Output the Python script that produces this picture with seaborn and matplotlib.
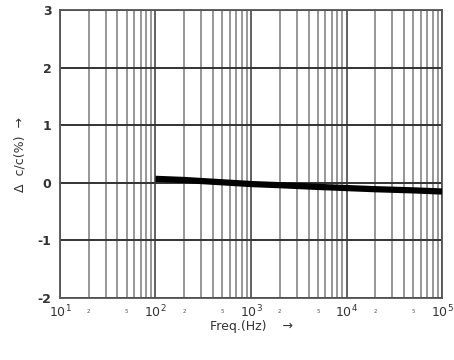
import numpy as np
import pandas as pd
import matplotlib
matplotlib.use('Agg')
import matplotlib.pyplot as plt
import matplotlib.ticker as mticker
import seaborn as sns

# data
freq = [100, 200, 500, 1000, 2000, 5000, 10000, 20000, 50000, 100000]
dcc = [0.07, 0.05, 0.01, -0.02, -0.04, -0.07, -0.09, -0.11, -0.13, -0.15]

df = pd.DataFrame({'freq': freq, 'dcc': dcc})

sns.set_style('white')
plt.rcParams['axes.unicode_minus'] = False
fig = plt.figure(figsize=(4.54, 3.6), dpi=100)
ax = fig.add_axes([0.132, 0.172, 0.842, 0.8])

sns.lineplot(data=df, x='freq', y='dcc', color='black', linewidth=4.5, ax=ax,
             solid_capstyle='butt', zorder=5)

ax.set_xscale('log')
ax.set_xlim(10, 1e5)
ax.set_ylim(-2, 3)

ax.xaxis.set_major_locator(mticker.LogLocator(base=10, numticks=10))
ax.xaxis.set_minor_locator(mticker.LogLocator(base=10, subs=np.arange(2, 10), numticks=10))
ax.xaxis.set_major_formatter(mticker.FuncFormatter(lambda v, p: '$10^{%d}$' % round(np.log10(v))))

def minor_fmt(v, p):
    m = round(v / 10 ** np.floor(np.log10(v)))
    return str(m) if m in (2, 5) else ''
ax.xaxis.set_minor_formatter(mticker.FuncFormatter(minor_fmt))
ax.set_yticks([-2, -1, 0, 1, 2, 3])

ax.grid(True, which='major', axis='y', color='#333333', linewidth=1.4)
ax.grid(True, which='major', axis='x', color='#555555', linewidth=1.3)
ax.grid(True, which='minor', axis='x', color='#7a7a7a', linewidth=1.1)
for s in ax.spines.values():
    s.set_color('#555555')
    s.set_linewidth(1.3)

ax.tick_params(axis='x', which='major', length=0, labelsize=9, pad=4, labelcolor='#333333')
ax.tick_params(axis='x', which='minor', length=0, labelsize=4, pad=8, labelcolor='#555555')
ax.tick_params(axis='y', length=0, labelsize=9, pad=6, labelcolor='#333333')
for t in ax.get_yticklabels():
    t.set_fontweight('bold')
for t in ax.get_xticklabels():
    t.set_fontweight('bold')

ax.set_xlabel('Freq.(Hz)    →', fontsize=9, color='#333333', labelpad=0)
ax.set_ylabel('Δ  c/c(%)  →', fontsize=9, color='#333333', labelpad=8)

fig.savefig('out.png', dpi=100)
